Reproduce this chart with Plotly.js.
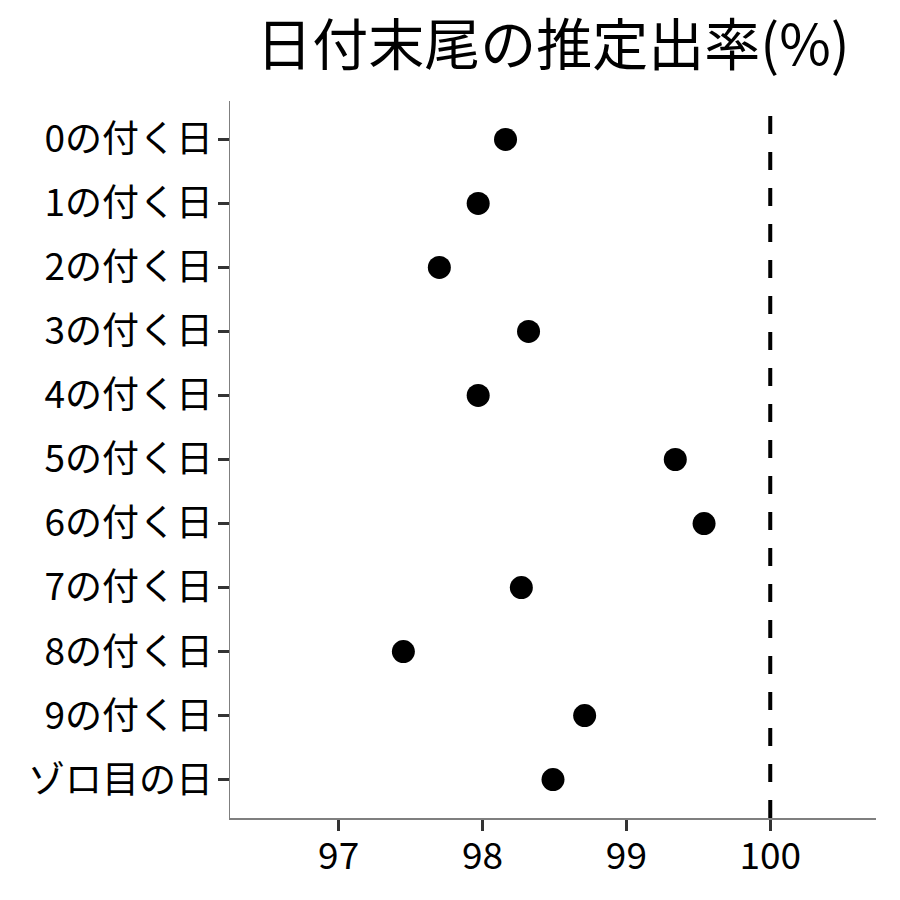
<!DOCTYPE html>
<html>
<head>
<meta charset="utf-8">
<script src="https://cdn.plot.ly/plotly-3.0.1.min.js"></script>
<style>
html,body{margin:0;padding:0;background:#fff;}
#chart{width:900px;height:900px;}
</style>
</head>
<body>
<div id="chart"></div>
<script>
const categories = ["0の付く日","1の付く日","2の付く日","3の付く日","4の付く日","5の付く日","6の付く日","7の付く日","8の付く日","9の付く日","ゾロ目の日"];
const rates = [98.16, 97.97, 97.70, 98.32, 97.97, 99.34, 99.54, 98.27, 97.45, 98.71, 98.49];
const xTicks = [97, 98, 99, 100];
const referenceRate = 100;
const titleText = "日付末尾の推定出率(%)";

const fontFamily = '"Noto Sans CJK JP", "Noto Sans", sans-serif';

const trace = {
  type: 'scatter',
  mode: 'markers',
  x: rates,
  y: categories,
  marker: {color: '#000000', size: 23},
  hoverinfo: 'x+y',
  showlegend: false
};

const layout = {
  width: 900,
  height: 900,
  margin: {l: 230, r: 24, t: 101, b: 82, pad: 0},
  paper_bgcolor: '#ffffff',
  plot_bgcolor: '#ffffff',
  font: {family: fontFamily, color: '#000000'},
  title: {
    text: titleText,
    font: {family: fontFamily, size: 56, color: '#000000'},
    xref: 'paper', x: 0.5, xanchor: 'center',
    yref: 'container', y: 1 - 45/900, yanchor: 'middle'
  },
  xaxis: {
    range: [96.245, 100.735],
    tickmode: 'array',
    tickvals: xTicks,
    ticktext: xTicks.map(String),
    showgrid: false,
    zeroline: false,
    showline: true,
    linecolor: '#7f7f7f',
    linewidth: 1.5,
    ticks: 'outside',
    ticklen: 11,
    tickwidth: 3,
    tickcolor: '#333333',
    ticklabelstandoff: -6,
    tickfont: {family: fontFamily, size: 37, color: '#000000'},
    fixedrange: true
  },
  yaxis: {
    type: 'category',
    categoryorder: 'array',
    categoryarray: categories,
    range: [categories.length - 0.4, -0.6],
    showgrid: false,
    zeroline: false,
    showline: true,
    linecolor: '#7f7f7f',
    linewidth: 1.5,
    ticks: 'outside',
    ticklen: 11,
    tickwidth: 3,
    tickcolor: '#333333',
    ticklabelstandoff: -3,
    tickfont: {family: fontFamily, size: 37, color: '#000000'},
    fixedrange: true
  },
  shapes: [{
    type: 'line',
    xref: 'x', yref: 'paper',
    x0: referenceRate, x1: referenceRate,
    y0: 0, y1: 1,
    line: {color: '#000000', width: 4, dash: '18px,18px'}
  }]
};

Plotly.newPlot('chart', [trace], layout, {displayModeBar: false, staticPlot: true});
</script>
</body>
</html>
